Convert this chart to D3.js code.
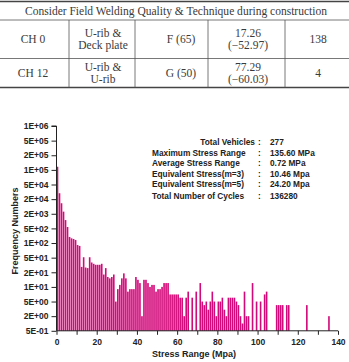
<!DOCTYPE html>
<html><head><meta charset="utf-8">
<script src="https://cdn.jsdelivr.net/npm/d3@7"></script>
<style>body{margin:0;background:#fff}svg{display:block}</style>
</head><body>
<script>
// ---- Table data ----
const tableTitle = "Consider Field Welding Quality & Technique during construction";
const tableRows = [
  ["CH 0", ["U-rib &", "Deck plate"], "F (65)", ["17.26", "(\u221252.97)"], "138"],
  ["CH 12", ["U-rib &", "U-rib"], "G (50)", ["77.29", "(\u221260.03)"], "4"]
];

// ---- Chart data ----
const yTickLabels = ["1E+06","5E+05","2E+05","1E+05","5E+04","2E+04","2E+03","5E+02","1E+02","5E+01","2E+01","1E+01","5E+00","2E+00","5E-01"];
const yTickValues = [1e6,5e5,2e5,1e5,5e4,2e4,2e3,5e2,1e2,50,20,10,5,2,0.5];
const xTickValues = [0,10,20,30,40,50,60,70,80,90,100,110,120,130,140];
// frequency per 1 MPa bin, bin start = index (MPa)
const frequency = [
  116000,29000,10500,2800,1100,570,195,168,156,139,
  91,87,28,51,27,26,51,37,34,32,
  32,32,34,18,26,16,15,16,18,5,
  9,11,15,19,15,8,9,9,9,16,
  14,12,2,14,14,12,10,11,11,8,
  9,9,10,12,12,12,7,7,7,7,
  7,6,6,2,6,8,0,6,0,8,
  0,12,5,4,5,3,5,8,5,2,
  5,5,6,3,2,6,6,6,6,5,
  4,2,1,8,2,2,0,12,0,5,
  0,5,0,7,8,0,0,0,0,4,
  4,4,4,0,4,4,0,0,0,0,
  0,0,0,0,4,0,0,0,0,0,
  0,0,0,0,0,2
];
const statLabels = ["Total Vehicles","Maximum Stress Range","Average Stress Range","Equivalent Stress(m=3)","Equivalent Stress(m=5)","Total Number of Cycles"];
const statValues = ["277","135.60 MPa","0.72 MPa","10.46 Mpa","24.20 Mpa","136280"];

const W = 349, H = 362;
const svg = d3.select("body").append("svg").attr("width", W).attr("height", H);

// ---- Table ----
const serif = "'Liberation Serif','DejaVu Serif',serif";
const tcol = "#3a3a3a";
const tg = svg.append("g").attr("font-family", serif).attr("fill", tcol).attr("font-size", 11.5);
const colSep = [69, 135, 208, 285];
const colCenter = [33, 103, 181, 248, 318];
const rowTop = [20, 58.5], rowBot = [58.5, 87.5];
tg.append("line").attr("x1",0).attr("x2",W).attr("y1",1.5).attr("y2",1.5).attr("stroke","#444").attr("stroke-width",1.6);
tg.append("line").attr("x1",0).attr("x2",W).attr("y1",20).attr("y2",20).attr("stroke","#555").attr("stroke-width",0.8);
tg.append("line").attr("x1",0).attr("x2",W).attr("y1",58.5).attr("y2",58.5).attr("stroke","#555").attr("stroke-width",0.8);
tg.append("line").attr("x1",0).attr("x2",W).attr("y1",87.5).attr("y2",87.5).attr("stroke","#444").attr("stroke-width",1.6);
colSep.forEach(x => tg.append("line").attr("x1",x).attr("x2",x).attr("y1",20).attr("y2",87.5).attr("stroke","#555").attr("stroke-width",0.8));
tg.append("text").attr("x", 25).attr("y", 15).attr("textLength", 302).attr("lengthAdjust","spacingAndGlyphs").text(tableTitle);
tableRows.forEach((row, r) => {
  const mid = (rowTop[r] + rowBot[r]) / 2;
  row.forEach((cell, c) => {
    const lines = Array.isArray(cell) ? cell : [cell];
    lines.forEach((ln, k) => {
      tg.append("text").attr("x", colCenter[c]).attr("text-anchor","middle")
        .attr("y", mid + 4 + (k - (lines.length - 1) / 2) * 12)
        .text(ln);
    });
  });
});

// ---- Chart ----
const plotTop = 126, plotBottom = 330.8, plotLeft = 56.5, plotRight = 338;
const x = d3.scaleLinear().domain([0, 140]).range([plotLeft, plotRight]);
const n = yTickValues.length;
const y = d3.scaleLinear()
  .domain(yTickValues.map(v => Math.log10(v)))
  .range(yTickValues.map((v, i) => plotTop + i * (plotBottom - plotTop) / (n - 1)));
const yv = v => y(Math.log10(v));

const sans = "'Liberation Sans',Arial,sans-serif";
const barColor = "#d2097a";

const bars = frequency.map((f, i) => ({s: i, f})).filter(d => d.f > 0);
svg.append("g").selectAll("rect").data(bars).join("rect")
  .attr("x", d => x(d.s) + 0.2)
  .attr("width", d => x(d.s + 1) - x(d.s) - 0.4)
  .attr("y", d => yv(d.f))
  .attr("height", d => yv(0.5) - yv(d.f))
  .attr("fill", barColor);

// axes
const yAxis = d3.axisLeft(y).tickValues(yTickValues.map(v => Math.log10(v)))
  .tickFormat((d, i) => yTickLabels[i]).tickSize(5).tickPadding(3);
const gy = svg.append("g").attr("transform", `translate(${plotLeft},0)`).call(yAxis);
gy.select(".domain").attr("d", `M-5,${plotTop}H0V${plotBottom}`).attr("stroke","#222");
gy.selectAll("line").attr("stroke","#222");
gy.selectAll("text").attr("font-family", sans).attr("font-weight","bold").attr("font-size", 8.5).attr("fill","#222");

const xAxis = d3.axisBottom(x).tickValues(xTickValues)
  .tickFormat(d => d % 20 === 0 ? d : "").tickSize(4).tickPadding(4);
const gx = svg.append("g").attr("transform", `translate(0,${plotBottom})`).call(xAxis);
gx.select(".domain").attr("d", `M${plotLeft},0H${plotRight}`).attr("stroke","#222");
gx.selectAll("line").attr("stroke","#222");
gx.selectAll("text").attr("font-family", sans).attr("font-weight","bold").attr("font-size", 8.5).attr("fill","#222");

svg.append("text").attr("x", 194).attr("y", 356.5).attr("text-anchor","middle")
  .attr("font-family", sans).attr("font-weight","bold").attr("font-size", 9).attr("fill","#222")
  .text("Stress Range (Mpa)");
svg.append("text").attr("transform", "translate(18,231) rotate(-90)").attr("text-anchor","middle")
  .attr("font-family", sans).attr("font-weight","bold").attr("font-size", 9).attr("fill","#222")
  .text("Frequency Numbers");

// stats box
const sg = svg.append("g").attr("font-family", sans).attr("font-weight","bold").attr("font-size", 8.3).attr("fill","#222");
const statY = [145, 155.8, 166.4, 176.8, 187.4, 199.4];
statLabels.forEach((lab, i) => {
  sg.append("text").attr("x", i === 0 ? 255 : 152).attr("y", statY[i])
    .attr("text-anchor", i === 0 ? "end" : "start").text(lab);
  sg.append("text").attr("x", 258).attr("y", statY[i]).text(":");
  sg.append("text").attr("x", 270).attr("y", statY[i]).text(statValues[i]);
});
</script>
</body></html>
